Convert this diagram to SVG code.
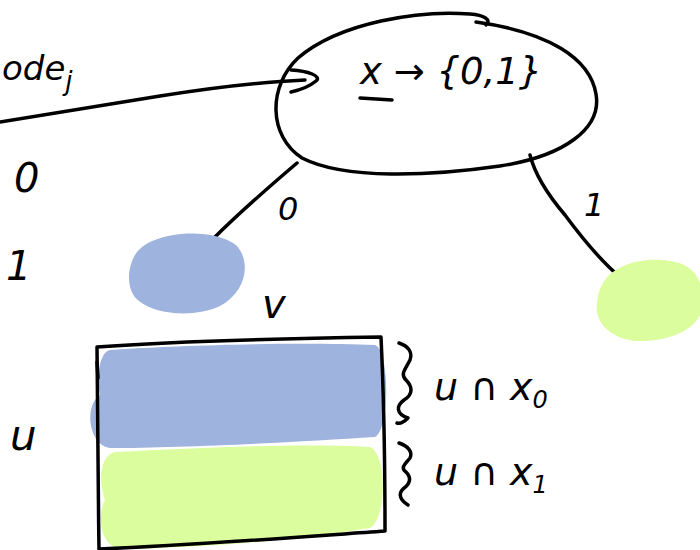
<svg xmlns="http://www.w3.org/2000/svg" width="700" height="550" viewBox="0 0 700 550">
<style>
.s{fill:none;stroke:#000;stroke-width:3.5;stroke-linecap:round;stroke-linejoin:round}
.t{font-family:"DejaVu Sans",sans-serif;font-style:italic;font-weight:normal;fill:#000}
.blue{fill:#9fb3df}
.green{fill:#dcfd9d}
</style>
<rect width="700" height="550" fill="#fff"/>
<g id="connectors">
<path class="s" d="M 0 122 C 60 112 110 104 160 96 C 210 88 260 82 305 80"/>
<path class="s" d="M 291 70 C 308 71 322 76 316 81 C 310 86 300 90 291 92"/>
<path class="s" d="M 297 163 C 270 186 240 212 214 238"/>
<path class="s" d="M 530 155 C 535 175 548 195 565 215 C 582 238 602 262 621 278"/>
</g>
<g id="source-label">
<text class="t" x="2" y="80" font-size="34">ode<tspan font-size="26" dy="10">j</tspan></text>
</g>
<g id="root">
<path class="s" d="M 486 25 C 492 20 484 15 470 14 C 420 10 340 22 298 58 C 268 86 268 136 302 158 C 345 180 430 176 500 166 C 565 156 602 128 596 94 C 590 58 548 32 476 22"/>
<text class="t" x="360" y="84" font-size="37">x → {0,1}</text>
<path class="s" d="M 360 98 L 392 100"/>
</g>
<g id="edge-labels">
<text class="t" x="14" y="192" font-size="40">0</text>
<text class="t" x="6" y="280" font-size="40">1</text>
<text class="t" x="278" y="220" font-size="32">0</text>
<text class="t" x="584" y="216" font-size="32">1</text>
</g>
<g id="node-v">
<path class="blue" d="M 137 252 C 152 232 210 226 236 245 C 252 262 246 292 220 306 C 195 318 150 316 134 296 C 126 284 128 264 137 252 Z"/>
<text class="t" x="262" y="318" font-size="40">v</text>
</g>
<g id="node-leaf1">
<path class="green" d="M 605 280 C 618 262 650 256 675 262 C 698 266 708 290 700 315 C 690 335 660 342 635 341 C 608 338 594 320 597 303 C 598 293 600 287 605 280 Z"/>
</g>
<g id="set-u">
<text class="t" x="10" y="450" font-size="42">u</text>
<path class="blue" d="M 110 350 C 180 345 300 342 375 345 C 390 350 390 430 375 437 C 300 442 180 448 110 448 C 88 445 84 405 100 395 C 96 375 100 352 110 350 Z"/>
<path class="green" d="M 115 452 C 200 448 300 443 370 447 C 388 455 386 520 370 528 C 300 540 200 548 120 549 C 98 545 98 512 105 500 C 98 480 100 456 115 452 Z"/>
<path class="s" d="M 97 347 C 150 343 250 339 381 337 C 384 400 385 470 385 531 C 300 537 200 545 99 549 C 98 480 97 410 97 347"/>
<path class="s" d="M 97 362 L 98 378" stroke-width="5"/>
<path class="s" d="M 399 343 C 408 346 413 352 410 360 C 405 370 400 374 406 380 C 412 386 414 394 404 400 C 396 406 396 414 408 418 C 404 422 400 424 397 423"/>
<path class="s" d="M 399 443 C 408 446 413 452 410 458 C 405 464 400 468 406 472 C 412 478 410 484 403 489 C 398 494 400 500 408 505"/>
<text class="t" x="434" y="400" font-size="38">u ∩ x<tspan font-size="24" dy="8">0</tspan></text>
<text class="t" x="434" y="485" font-size="38">u ∩ x<tspan font-size="24" dy="8">1</tspan></text>
</g>
</svg>
